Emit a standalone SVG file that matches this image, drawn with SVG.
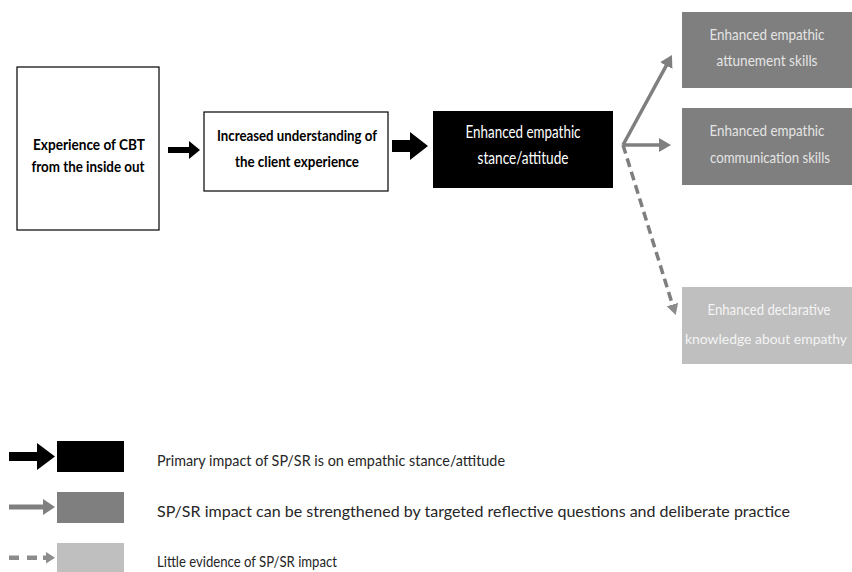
<svg xmlns="http://www.w3.org/2000/svg" width="852" height="572" viewBox="0 0 852 572">
  <style>
    text { font-family: Lato, "Open Sans", "Liberation Sans", sans-serif; font-size: 16.5px; text-anchor: middle; }
    .b { font-weight: bold; fill: #000; font-size: 16px; }
    .w { fill: #ffffff; }
    .g { fill: #e4e4e4; font-size: 15px; }
    .l { fill: #f4f4f4; font-size: 15px; }
    .leg { font-size: 15px; text-anchor: start; fill: #262626; }
    .outline { fill: #ffffff; stroke: #000; stroke-width: 1.2; }
    .conn { stroke: #7f7f7f; stroke-width: 3.5; fill: none; }
    .dash { stroke-dasharray: 9 5; }
  </style>
  <defs>
    <marker id="gh" markerUnits="userSpaceOnUse" markerWidth="14" markerHeight="16" refX="6" refY="7" orient="auto">
      <path d="M0,0 L12,7 L0,14 Z" fill="#7f7f7f"/>
    </marker>
    <marker id="dh" markerUnits="userSpaceOnUse" markerWidth="14" markerHeight="16" refX="6" refY="6" orient="auto">
      <path d="M0,0 L11,6 L0,12 Z" fill="#8c8c8c"/>
    </marker>
  </defs>

  <g id="connectors">
    <polygon points="168,147 189,147 189,141 200,150 189,159 189,153 168,153" fill="#000"/>
    <polygon points="392,140 410,140 410,132 428,146 410,160 410,152 392,152" fill="#000"/>
    <line class="conn" x1="623" y1="145" x2="669.1" y2="60.3" marker-end="url(#gh)"/>
    <line class="conn" x1="623" y1="145" x2="665" y2="145" marker-end="url(#gh)"/>
    <line class="conn dash" x1="623" y1="145" x2="674.2" y2="310.3" stroke="#8c8c8c" marker-end="url(#dh)"/>
  </g>

  <g id="node-cbt">
    <rect class="outline" x="17" y="67" width="142" height="163"/>
    <text class="b" x="89" y="150" textLength="112" lengthAdjust="spacingAndGlyphs">Experience of CBT</text>
    <text class="b" x="88" y="172" textLength="113" lengthAdjust="spacingAndGlyphs">from the inside out</text>
  </g>

  <g id="node-understanding">
    <rect class="outline" x="204" y="112" width="184" height="79"/>
    <text class="b" x="297" y="141" textLength="160" lengthAdjust="spacingAndGlyphs">Increased understanding of</text>
    <text class="b" x="297" y="167" textLength="124" lengthAdjust="spacingAndGlyphs">the client experience</text>
  </g>

  <g id="node-stance">
    <rect x="433" y="111" width="180" height="77" fill="#000"/>
    <text class="w" x="523" y="138" textLength="115" lengthAdjust="spacingAndGlyphs">Enhanced empathic</text>
    <text class="w" x="523" y="164" textLength="91" lengthAdjust="spacingAndGlyphs">stance/attitude</text>
  </g>

  <g id="node-attunement">
    <rect x="682" y="12" width="170" height="76" fill="#7f7f7f"/>
    <text class="g" x="767" y="40" textLength="115" lengthAdjust="spacingAndGlyphs">Enhanced empathic</text>
    <text class="g" x="767" y="66" textLength="101" lengthAdjust="spacingAndGlyphs">attunement skills</text>
  </g>

  <g id="node-communication">
    <rect x="682" y="108" width="170" height="77" fill="#7f7f7f"/>
    <text class="g" x="767" y="136" textLength="115" lengthAdjust="spacingAndGlyphs">Enhanced empathic</text>
    <text class="g" x="770" y="163" textLength="120" lengthAdjust="spacingAndGlyphs">communication skills</text>
  </g>

  <g id="node-declarative">
    <rect x="682" y="287" width="170" height="77" fill="#bfbfbf"/>
    <text class="l" x="769" y="315" textLength="123" lengthAdjust="spacingAndGlyphs">Enhanced declarative</text>
    <text class="l" x="766" y="344" style="font-size:14px" textLength="162" lengthAdjust="spacingAndGlyphs">knowledge about empathy</text>
  </g>

  <g id="legend">
    <polygon points="9,452 37,452 37,443 55,456.5 37,470 37,461 9,461" fill="#000"/>
    <rect x="57" y="441" width="67" height="31" fill="#000"/>
    <text class="leg" x="157" y="466" textLength="348" lengthAdjust="spacingAndGlyphs">Primary impact of SP/SR is on empathic stance/attitude</text>

    <polygon points="9,504.5 43,504.5 43,499 55,507 43,515 43,509.5 9,509.5" fill="#7f7f7f"/>
    <rect x="57" y="492" width="67" height="31" fill="#7f7f7f"/>
    <text class="leg" x="157" y="517" textLength="633" lengthAdjust="spacingAndGlyphs">SP/SR impact can be strengthened by targeted reflective questions and deliberate practice</text>

    <rect x="9" y="555.5" width="10" height="4.5" fill="#8c8c8c"/>
    <rect x="27" y="555.5" width="10" height="4.5" fill="#8c8c8c"/>
    <polygon points="43,555.5 46,555.5 46,552 55,557.7 46,563.5 46,560 43,560" fill="#8c8c8c"/>
    <rect x="57" y="543" width="67" height="31" fill="#bfbfbf"/>
    <text class="leg" x="157" y="567" textLength="180" lengthAdjust="spacingAndGlyphs">Little evidence of SP/SR impact</text>
  </g>
</svg>
